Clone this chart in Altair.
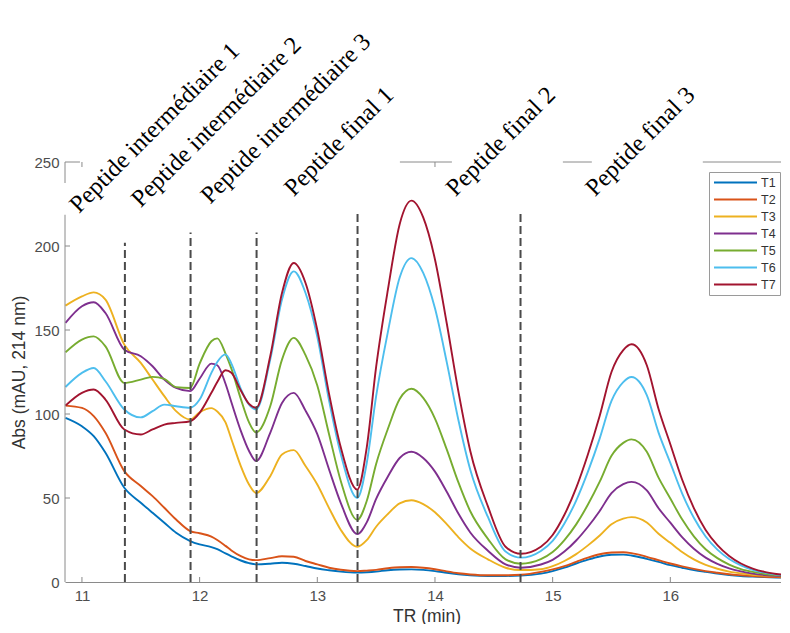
import altair as alt
import pandas as pd

# ---------------- data ----------------
tr = [10.86, 11.0, 11.1, 11.2, 11.36, 11.5, 11.6, 11.7, 11.8, 11.92,
      12.0, 12.1, 12.15, 12.22, 12.27, 12.35, 12.42, 12.48, 12.6, 12.7,
      12.8, 12.9, 13.0, 13.1, 13.2, 13.34, 13.42, 13.5, 13.6, 13.7,
      13.8, 13.9, 14.0, 14.1, 14.2, 14.3, 14.45, 14.6, 14.73, 14.9,
      15.0, 15.1, 15.2, 15.3, 15.4, 15.5, 15.6, 15.67, 15.8, 15.9,
      16.0, 16.1, 16.2, 16.3, 16.4, 16.5, 16.6, 16.7, 16.8, 16.9, 17.0]

T1 = [97.7, 92.7, 86.8, 76.9, 56.1, 47.2, 41.2, 35.3, 29.3, 24.4,
      22.4, 20.8, 19.5, 17.0, 15.3, 12.8, 11.2, 10.5, 10.9, 11.5,
      10.9, 9.5, 8.0, 7.0, 6.2, 5.6, 5.8, 6.2, 7.0, 7.4,
      7.5, 7.2, 6.5, 5.5, 4.6, 4.0, 3.6, 3.6, 3.8, 5.0,
      6.5, 8.5, 11.0, 13.3, 15.2, 16.2, 16.3, 15.8, 13.8, 12.0,
      10.0, 8.5, 7.1, 6.0, 5.0, 4.2, 3.6, 3.2, 2.9, 2.7, 2.6]

T2 = [105.0, 103.6, 98.7, 88.8, 66.0, 57.1, 51.1, 44.2, 37.2, 30.3,
      29.0, 27.0, 25.0, 21.5, 18.8, 15.4, 13.5, 13.0, 14.2, 15.3,
      15.0, 12.5, 10.5, 8.5, 7.3, 6.5, 6.8, 7.2, 8.2, 8.8,
      8.9, 8.5, 7.6, 6.3, 5.2, 4.5, 4.0, 4.0, 4.3, 6.0,
      7.5, 9.5, 12.0, 14.5, 16.5, 17.6, 17.7, 17.2, 15.0, 13.0,
      11.0, 9.3, 7.8, 6.5, 5.5, 4.6, 4.0, 3.5, 3.1, 2.9, 2.8]

T3 = [164.5, 170.0, 172.4, 168.1, 141.3, 130.4, 120.5, 110.6, 101.7, 96.7,
      101.0, 103.5, 101.5, 95.0, 85.0, 69.0, 58.0, 53.0, 63.0, 75.9,
      78.5, 69.0, 58.0, 44.0, 31.0, 21.0, 24.9, 32.9, 40.5, 46.8,
      48.7, 46.4, 41.5, 34.4, 26.6, 20.0, 13.5, 8.5, 7.1, 7.6,
      9.4, 12.5, 16.6, 21.8, 27.7, 34.4, 37.7, 38.6, 35.4, 28.7,
      23.3, 17.9, 13.5, 10.2, 7.9, 6.2, 5.1, 4.3, 3.8, 3.5, 3.3]

T4 = [154.2, 164.1, 166.5, 160.1, 138.3, 134.4, 128.4, 120.5, 115.5, 113.6,
      121.0, 130.0, 129.0, 118.0, 107.0, 90.0, 78.0, 72.0, 88.8, 106.6,
      112.6, 102.0, 88.0, 67.0, 47.0, 28.5, 35.5, 49.5, 62.8, 73.8,
      77.5, 73.8, 65.7, 53.7, 40.6, 29.5, 18.6, 10.5, 8.5, 10.4,
      13.2, 18.1, 24.7, 32.9, 42.3, 52.9, 58.2, 59.6, 54.5, 43.9,
      35.3, 26.7, 19.8, 14.5, 10.8, 8.1, 6.3, 5.0, 4.2, 3.7, 3.4]

T5 = [136.7, 144.3, 146.2, 140.3, 118.5, 120.5, 122.1, 120.9, 116.0, 115.5,
      130.0, 143.3, 145.0, 136.0, 127.0, 109.0, 95.0, 89.0, 104.6, 132.4,
      145.3, 135.0, 117.0, 88.0, 60.0, 37.0, 48.2, 70.3, 91.2, 108.9,
      115.0, 109.6, 97.3, 78.9, 59.1, 42.1, 25.7, 13.5, 10.9, 13.6,
      17.8, 24.9, 34.3, 46.1, 59.7, 75.1, 82.8, 84.9, 77.5, 62.1,
      49.7, 37.3, 27.2, 19.5, 14.2, 10.4, 7.7, 6.0, 4.8, 4.1, 3.6]

T6 = [116.1, 124.5, 127.4, 119.5, 102.7, 98.0, 101.7, 105.6, 104.6, 103.7,
      108.6, 124.5, 131.0, 135.5, 130.0, 115.0, 105.5, 102.7, 132.4, 168.1,
      184.9, 172.0, 146.0, 108.0, 76.0, 50.0, 70.7, 110.6, 148.9, 181.2,
      192.8, 184.0, 162.9, 130.9, 96.1, 66.8, 38.7, 18.1, 14.5, 18.5,
      24.5, 34.8, 48.5, 65.7, 85.5, 107.8, 119.0, 122.0, 111.2, 88.9,
      70.9, 52.8, 38.2, 27.1, 19.3, 13.7, 9.9, 7.3, 5.6, 4.5, 3.9]

T7 = [105.0, 112.6, 114.6, 108.6, 90.8, 87.8, 90.8, 93.7, 94.7, 95.7,
      100.7, 112.6, 119.0, 126.0, 124.5, 114.0, 106.0, 103.7, 134.4, 172.0,
      189.9, 178.0, 150.0, 112.0, 80.0, 55.0, 80.0, 128.0, 174.0, 213.0,
      227.0, 217.0, 192.0, 154.0, 113.0, 78.0, 45.0, 21.0, 16.8, 21.0,
      28.0, 40.0, 56.0, 76.0, 99.0, 125.0, 138.0, 141.5, 129.0, 103.0,
      82.0, 61.0, 44.0, 31.0, 22.0, 15.5, 11.0, 8.0, 6.0, 4.8, 4.0]

series_names = ["T1", "T2", "T3", "T4", "T5", "T6", "T7"]
series_values = [T1, T2, T3, T4, T5, T6, T7]
series_colors = ["#0072BD", "#D95319", "#EDB120", "#7E2F8E",
                 "#77AC30", "#4DBEEE", "#A2142F"]

# vertical dashed separators
dash_x = [11.365, 11.923, 12.484, 13.342, 14.727]
dash_top = [202, 208, 208, 220, 220]

# rotated annotations
label_text = ["Peptide intermédiaire 1", "Peptide intermédiaire 2",
              "Peptide intermédiaire 3", "Peptide final 1",
              "Peptide final 2", "Peptide final 3"]
label_x = [10.975, 11.50, 12.09, 12.80, 14.175, 15.36]
label_y = [219.0, 222.5, 224.5, 229.0, 229.0, 229.0]

x_ticks = [11, 12, 13, 14, 15, 16, 17]
y_ticks = [0, 50, 100, 150, 200, 250]
top_ticks = [11, 14]
inner_y_ticks = [50, 100, 150, 200]

# visible pieces of the box outline (the rest is hidden behind the labels)
top_seg_x0 = [10.856, 13.702, 15.087, 16.276]
top_seg_x1 = [10.983, 14.144, 15.333, 17.0]
left_seg_y0 = [0, 237.5]
left_seg_y1 = [218.6, 250]

# ---------------- build ----------------
W, H = 723, 420
X_MIN, X_MAX = 10.856, 17.0
GREY = "#8a8a8a"
SANS = "Liberation Sans"
SERIF = "Liberation Serif"

xs = alt.Scale(domain=[X_MIN, X_MAX], nice=False, zero=False)
ys = alt.Scale(domain=[0, 250], nice=False)


def x_axis():
    return alt.Axis(
        title="TR (min)", values=x_ticks, format="d", ticks=False, grid=False,
        domainColor=GREY, domainWidth=1, labelFont=SANS, labelFontSize=15,
        labelColor="#4d4d4d", labelPadding=6, labelFlush=False, labelOverlap=False,
        titleFont=SANS, titleFontSize=17.5, titleFontWeight="normal",
        titleColor="#333333", titlePadding=4)


def y_axis():
    return alt.Axis(
        title="Abs (mAU, 214 nm)", values=y_ticks, ticks=False, grid=False,
        domain=False, labelFont=SANS, labelFontSize=15, labelColor="#4d4d4d",
        labelPadding=6, labelOverlap=False, labelFlush=False,
        titleFont=SANS, titleFontSize=17.5, titleFontWeight="normal",
        titleColor="#333333", titlePadding=5)


def X(field):
    return alt.X(field, scale=xs, axis=x_axis(), title="TR (min)")


def Y(field):
    return alt.Y(field, scale=ys, axis=y_axis(), title="Abs (mAU, 214 nm)")


rows = []
for name, vals in zip(series_names, series_values):
    for x, y in zip(tr, vals):
        rows.append({"TR": x, "Abs": y, "serie": name})
df = pd.DataFrame(rows)

lines = alt.Chart(df).mark_line(strokeWidth=1.9, interpolate="monotone", clip=True).encode(
    x=X("TR:Q"),
    y=Y("Abs:Q"),
    color=alt.Color("serie:N", scale=alt.Scale(domain=series_names, range=series_colors),
                    legend=alt.Legend(title=None, orient="none", legendX=644, legendY=10,
                                      symbolType="stroke", symbolSize=1849,
                                      symbolStrokeWidth=2, clipHeight=13, rowPadding=4,
                                      labelFont=SANS, labelFontSize=12.5, labelColor="#333333",
                                      labelOffset=3, padding=4, strokeColor="#9a9a9a",
                                      fillColor="white", cornerRadius=0)),
)

dash_df = pd.DataFrame({"x": dash_x, "top": dash_top, "bottom": [0] * len(dash_x)})
dashes = alt.Chart(dash_df).mark_rule(strokeDash=[8, 4], strokeWidth=2, color="#4a4a4a").encode(
    x=X("x:Q"), y=Y("bottom:Q"), y2="top:Q",
)

lab_df = pd.DataFrame({"x": label_x, "y": label_y, "t": label_text})
labels = alt.Chart(lab_df).mark_text(angle=315, align="left", baseline="alphabetic",
                                     font=SERIF, fontSize=24.5, color="black").encode(
    x=X("x:Q"), y=Y("y:Q"), text="t:N",
)

xt_df = pd.DataFrame({"v": x_ticks})
xticks = alt.Chart(xt_df).mark_rule(color=GREY, strokeWidth=1).encode(
    x=X("v:Q"), y=alt.value(H), y2=alt.value(H - 5))

tt_df = pd.DataFrame({"v": top_ticks})
tticks = alt.Chart(tt_df).mark_rule(color=GREY, strokeWidth=1).encode(
    x=X("v:Q"), y=alt.value(0), y2=alt.value(5))

yt_df = pd.DataFrame({"v": inner_y_ticks})
yticks = alt.Chart(yt_df).mark_rule(color=GREY, strokeWidth=1).encode(
    y=Y("v:Q"), x=alt.value(0), x2=alt.value(5))

top_df = pd.DataFrame({"x0": top_seg_x0, "x1": top_seg_x1})
top_border = alt.Chart(top_df).mark_rule(color=GREY, strokeWidth=1).encode(
    x=X("x0:Q"), x2="x1:Q", y=alt.value(0))

left_df = pd.DataFrame({"y0": left_seg_y0, "y1": left_seg_y1})
left_border = alt.Chart(left_df).mark_rule(color=GREY, strokeWidth=1).encode(
    y=Y("y0:Q"), y2="y1:Q", x=alt.value(0))

chart = alt.layer(lines, top_border, left_border, xticks, tticks, yticks, dashes, labels).properties(
    width=W, height=H,
    autosize=alt.AutoSizeParams(type="none"),
    padding={"left": 57, "top": 154, "right": -7, "bottom": 42},
    background="white",
).configure_view(stroke=None)

chart.save("out.html", embed_options={"renderer": "svg", "actions": False})
